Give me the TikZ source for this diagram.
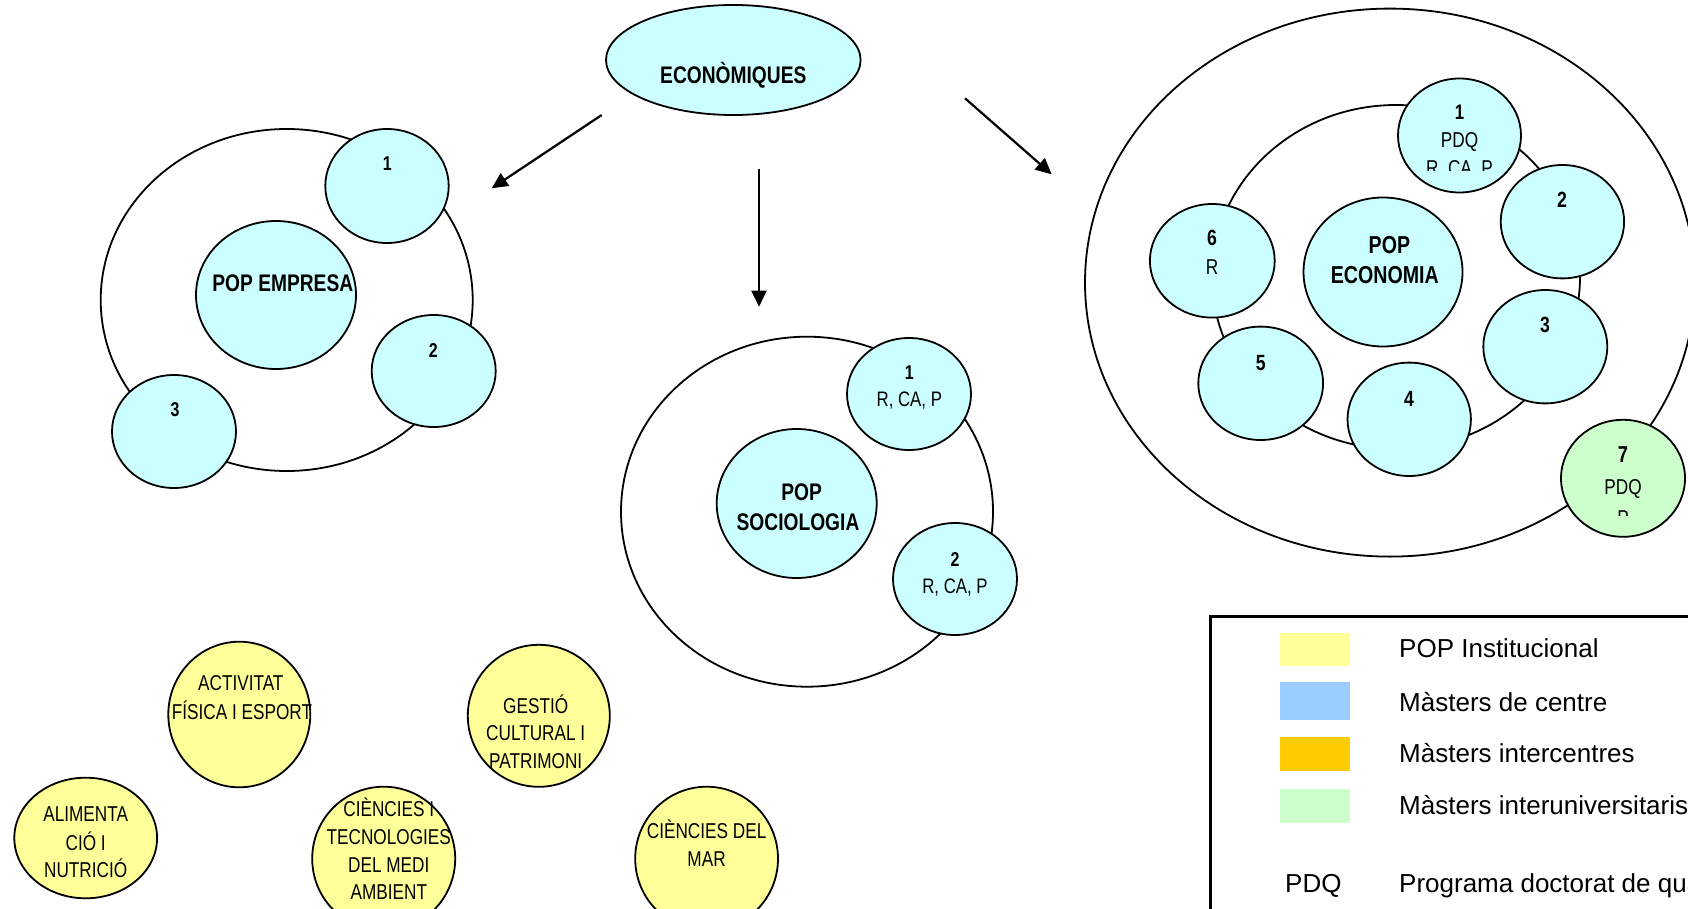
\documentclass[tikz,border=0pt]{standalone}
\usepackage{fontspec}
\setmainfont{Liberation Sans}
\newfontfamily\nf[FakeStretch=0.8]{Liberation Sans}
\usetikzlibrary{shapes.geometric,arrows.meta}
\definecolor{cyanfill}{HTML}{CCFFFF}
\definecolor{greenfill}{HTML}{CCFFCC}
\definecolor{yelfill}{HTML}{FFFF99}
\definecolor{bluesw}{HTML}{99CCFF}
\definecolor{orangesw}{HTML}{FFCC00}
\begin{document}
\begin{tikzpicture}[x=1pt,y=-1pt,
  ring/.style={ellipse, draw, line width=1.8pt, inner sep=0pt, outer sep=0pt},
  blob/.style={ellipse, draw, line width=1.8pt, fill=cyanfill, inner sep=0pt, outer sep=0pt},
  gblob/.style={blob, fill=greenfill},
  yblob/.style={blob, fill=yelfill},
  sz/.style 2 args={minimum width={2*#1pt}, minimum height={2*#2pt}},
  lbl/.style={anchor=base, inner sep=0pt, outer sep=0pt},
  bn/.style={font={\nf\bfseries\fontsize{#1pt}{#1pt}\selectfont}},
  rn/.style={font={\nf\fontsize{#1pt}{#1pt}\selectfont}},
  yt/.style={lbl, font={\nf\fontsize{21.5pt}{21.5pt}\selectfont}},
  lg/.style={inner sep=0pt, font={\fontsize{26pt}{26pt}\selectfont}},
  sw/.style={rectangle, inner sep=0pt, outer sep=0pt, draw=none, minimum width=70pt},
  arr/.style={line width=2.2pt, -{Triangle[length=16pt,width=15pt]}}
]
\useasboundingbox (0,0) rectangle (1688,909);
\clip (0,0) rectangle (1688,909);

% ---------- top ellipse ----------
\node[blob, sz={127.3}{55}] (eco) at (733.3,60) {};
\node[lbl, bn=24] (tEco) at (733.3,84) {ECONÒMIQUES};

% ---------- arrows ----------
\coordinate (a1s) at (601.7,115);
\coordinate (a1e) at (491.7,188.3);
\coordinate (a2s) at (759,169.3);
\coordinate (a2e) at (759,306.7);
\coordinate (a3s) at (965,98.3);
\coordinate (a3e) at (1051.7,174.3);
\draw[arr] (a1s) -- (a1e);
\draw[arr] (a2s) -- (a2e);
\draw[arr] (a3s) -- (a3e);

% ---------- POP EMPRESA ----------
\node[ring, sz={186}{171}] (empOuter) at (286.7,300) {};
\node[blob, sz={80}{74}] (emp) at (276,295) {};
\node[blob, sz={61.7}{57}] (emp1) at (387,186) {};
\node[blob, sz={62}{56}] (emp2) at (433.7,371) {};
\node[blob, sz={62}{56.5}] (emp3) at (174,431.5) {};
\node[lbl, bn=24] (tEmp) at (282.8,291.7) {POP EMPRESA};
\node[lbl, bn=20] (tEmp1) at (387.3,170.7) {1};
\node[lbl, bn=20] (tEmp2) at (433.3,357.3) {2};
\node[lbl, bn=20] (tEmp3) at (175,416) {3};

% ---------- POP SOCIOLOGIA ----------
\node[ring, sz={186}{175}] (socOuter) at (807,511.7) {};
\node[blob, sz={80}{74.5}] (soc) at (796.7,503.5) {};
\node[blob, sz={62}{56}] (soc1) at (909,394) {};
\node[blob, sz={62}{56}] (soc2) at (955,579) {};
\node[lbl, bn=24] (tSocA) at (801.7,500) {POP};
\node[lbl, bn=24] (tSocB) at (798,530) {SOCIOLOGIA};
\node[lbl, bn=20] (tSoc1n) at (909.3,379.3) {1};
\node[lbl, rn=21] (tSoc1r) at (909.3,406) {R, CA, P};
\node[lbl, bn=20] (tSoc2n) at (955,566) {2};
\node[lbl, rn=21] (tSoc2r) at (955,593) {R, CA, P};

% ---------- POP ECONOMIA ----------
\node[ring, sz={305}{274}] (ecoOuter) at (1390,282.6) {};
\node[ring, sz={184}{172}] (ecoInner) at (1396,277) {};
\node[blob, sz={79.5}{74.5}] (ecoPop) at (1383,272) {};
\node[blob, sz={61.5}{57}] (eco1) at (1459.5,135.5) {};
\node[blob, sz={61.7}{56.7}] (eco2) at (1562.4,221.7) {};
\node[blob, sz={62}{56.7}] (eco3) at (1545.3,346.7) {};
\node[blob, sz={61.7}{56.7}] (eco4) at (1409.2,419.3) {};
\node[blob, sz={62.4}{56.7}] (eco5) at (1260.7,383.3) {};
\node[blob, sz={62.4}{56.8}] (eco6) at (1212.3,260.8) {};
\node[gblob, sz={62}{58.5}] (eco7) at (1623,478.3) {};
\node[lbl, bn=24.5] (tEcoA) at (1389.4,254) {POP};
\node[lbl, bn=24.5] (tEcoB) at (1384.8,283.3) {ECONOMIA};
\node[lbl, bn=21] (tEco1n) at (1459.5,120) {1};
\node[lbl, rn=21.5] (tEco1p) at (1459.5,148) {PDQ};
\begin{scope}
  \clip (1400,150) rectangle (1520,171);
  \node[lbl, rn=21.5] (tEco1r) at (1459.5,176) {R, CA, P};
\end{scope}
\node[lbl, bn=22] (tEco2) at (1562,207.3) {2};
\node[lbl, bn=22] (tEco3) at (1545,332.7) {3};
\node[lbl, bn=22] (tEco4) at (1409,406) {4};
\node[lbl, bn=22] (tEco5) at (1260.7,370) {5};
\node[lbl, bn=22] (tEco6n) at (1212,246) {6};
\node[lbl, rn=21.5] (tEco6r) at (1212,274) {R};
\node[lbl, bn=23] (tEco7n) at (1623,462) {7};
\node[lbl, rn=21.5] (tEco7p) at (1623,494) {PDQ};
\begin{scope}
  \clip (1570,500) rectangle (1680,515);
  \node[lbl, rn=21.5] (tEco7r) at (1623,525) {P};
\end{scope}

% ---------- yellow POP institucional ----------
\node[yblob, sz={71}{72.8}] (act) at (239.3,714.5) {};
\node[yt] (tAct1) at (240.8,690.7) {ACTIVITAT};
\node[yt] (tAct2) at (242,719) {FÍSICA I ESPORT};

\node[yblob, sz={71}{71}] (gest) at (538.8,715.8) {};
\node[yt] (tGest1) at (535.7,713) {GESTIÓ};
\node[yt] (tGest2) at (535.7,740.5) {CULTURAL I};
\node[yt] (tGest3) at (535.7,768) {PATRIMONI};

\node[yblob, sz={71.4}{60.3}] (alim) at (85.7,838) {};
\node[yt] (tAlim1) at (85.7,821.7) {ALIMENTA};
\node[yt] (tAlim2) at (85.7,850) {CIÓ I};
\node[yt] (tAlim3) at (85.7,877.7) {NUTRICIÓ};

\node[yblob, sz={71.5}{72}] (ctma) at (383.7,858.7) {};
\node[yt] (tCtma1) at (388.8,816.3) {CIÈNCIES I};
\node[yt] (tCtma2) at (388.8,844) {TECNOLOGIES};
\node[yt] (tCtma3) at (388.8,872) {DEL MEDI};
\node[yt] (tCtma4) at (388.8,899.7) {AMBIENT};

\node[yblob, sz={71.4}{72}] (cmar) at (706.6,858.7) {};
\node[yt] (tCmar1) at (706.6,838.7) {CIÈNCIES DEL};
\node[yt] (tCmar2) at (706.6,866.3) {MAR};

% ---------- legend ----------
\draw[line width=3pt] (1210,616) rectangle (1720,940);
\node[sw, fill=yelfill, minimum height=32.4pt] (sw1) at (1315,649.5) {};
\node[sw, fill=bluesw, minimum height=38pt] (sw2) at (1315,701) {};
\node[sw, fill=orangesw, minimum height=34pt] (sw3) at (1315,754) {};
\node[sw, fill=greenfill, minimum height=33.7pt] (sw4) at (1315,805.8) {};
\node[lg, anchor=base west] (lg1) at (1399,657.7) {POP Institucional};
\node[lg, anchor=base west] (lg2) at (1399,711.7) {Màsters de centre};
\node[lg, anchor=base west] (lg3) at (1399,762.3) {Màsters intercentres};
\node[lg, anchor=base west] (lg4) at (1399,814) {Màsters interuniversitaris};
\node[lg, anchor=base] (lg5a) at (1313.4,892.7) {PDQ};
\node[lg, anchor=base west] (lg5b) at (1399,892.7) {Programa doctorat de qualitat};
\end{tikzpicture}
\end{document}
